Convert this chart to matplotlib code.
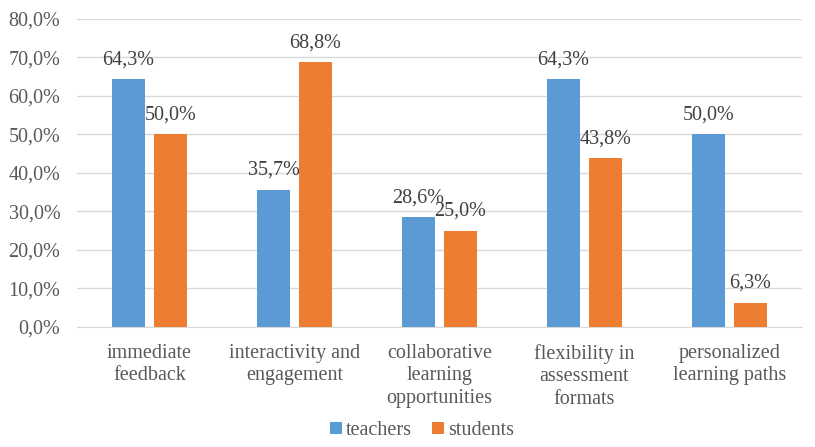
import numpy as np
import matplotlib.pyplot as plt

categories = ["immediate\nfeedback", "interactivity and\nengagement",
              "collaborative\nlearning\nopportunities", "flexibility in\nassessment\nformats",
              "personalized\nlearning paths"]
teachers = [64.3, 35.7, 28.6, 64.3, 50.0]
students = [50.0, 68.8, 25.0, 43.8, 6.3]
yticks = [0, 10, 20, 30, 40, 50, 60, 70, 80]

plt.rcParams['font.family'] = ['Liberation Serif', 'DejaVu Serif']
fs = 14.5

fig = plt.figure(figsize=(8.15, 4.47), dpi=100)
ax = fig.add_axes([0.0945, 0.2685, 0.8895, 0.689])

x = np.arange(len(categories))
w = 0.23
off = 0.145
b1 = ax.bar(x - off, teachers, w, color='#5b9bd5', label='teachers', zorder=3)
b2 = ax.bar(x + off, students, w, color='#ed7d31', label='students', zorder=3)

for bars, vals in ((b1, teachers), (b2, students)):
    for b, v in zip(bars, vals):
        ax.annotate(f"{v:.1f}%".replace('.', ','), (b.get_x() + b.get_width() / 2, v),
                    xytext=(0, 7), textcoords='offset points', ha='center', va='bottom',
                    fontsize=fs, color='#404040')

ax.set_xlim(-0.5, len(categories) - 0.5)
ax.set_ylim(0, 80)
ax.set_yticks(yticks)
ax.set_yticklabels([f"{t:.1f}%".replace('.', ',') for t in yticks], fontsize=fs, color='#595959')
ax.set_xticks(x)
ax.set_xticklabels(categories, fontsize=fs, color='#595959', linespacing=1.25)
ax.tick_params(length=0)
ax.tick_params(axis='x', pad=12)
ax.tick_params(axis='y', pad=12)
ax.yaxis.grid(True, color='#d9d9d9', lw=1, zorder=0)
for s in ['top', 'right', 'left']:
    ax.spines[s].set_visible(False)
ax.spines['bottom'].set_color('#d9d9d9')

leg = fig.legend(loc='lower center', bbox_to_anchor=(0.518, -0.025), ncol=2, frameon=False,
                 prop={'family': 'Liberation Serif', 'size': fs},
                 handlelength=0.6, handleheight=0.6, handletextpad=0.2, columnspacing=1.0)
for t in leg.get_texts():
    t.set_color('#595959')

fig.savefig('out.png', dpi=100)
